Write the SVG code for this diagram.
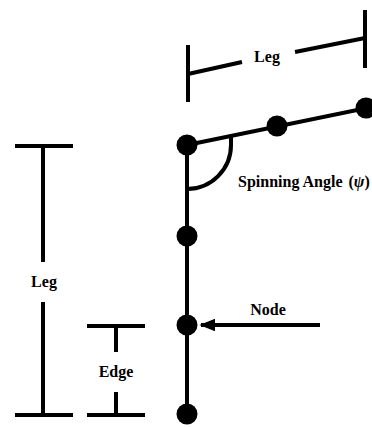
<svg xmlns="http://www.w3.org/2000/svg" width="372" height="427" viewBox="0 0 372 427">
  <defs>
    <style>
      .ln { stroke: #000; stroke-width: 4; fill: none; stroke-linecap: butt; }
      .nd { fill: #000; }
      .lbl { font-family: "Liberation Serif", "Times New Roman", serif; font-weight: bold; font-size: 16px; fill: #000; }
    </style>
    <marker id="head" viewBox="0 0 10 10" refX="9" refY="5" markerWidth="4" markerHeight="3.2" orient="auto" preserveAspectRatio="none">
      <path d="M0,0 L10,5 L0,10 z" fill="#000"/>
    </marker>
  </defs>
  <rect width="372" height="427" fill="#fff"/>

  <g id="connectors">
    <!-- chain: vertical leg and tilted leg -->
    <line class="ln" x1="187" y1="145" x2="187" y2="414"/>
    <line class="ln" x1="187" y1="145" x2="372" y2="107"/>
    <!-- spinning angle arc -->
    <path class="ln" d="M231,136 V145 A44,44 0 0 1 187,189"/>
    <!-- pointer to node -->
    <line class="ln" x1="320" y1="325" x2="201" y2="325" marker-end="url(#head)"/>
  </g>

  <g id="node-1"><circle class="nd" cx="187" cy="145" r="10.5"/></g>
  <g id="node-2"><circle class="nd" cx="277" cy="126" r="10.5"/></g>
  <g id="node-3"><circle class="nd" cx="366" cy="108" r="10.5"/></g>
  <g id="node-4"><circle class="nd" cx="187" cy="236" r="10.5"/></g>
  <g id="node-5"><circle class="nd" cx="187" cy="325" r="10.5"/></g>
  <g id="node-6"><circle class="nd" cx="187" cy="414" r="10.5"/></g>

  <!-- top leg dimension -->
  <g id="dim-leg-top">
    <line class="ln" x1="188" y1="45" x2="188" y2="102"/>
    <line class="ln" x1="365" y1="10" x2="365" y2="68"/>
    <line class="ln" x1="188" y1="74" x2="242" y2="62"/>
    <line class="ln" x1="295" y1="52" x2="365" y2="38"/>
    <text class="lbl" x="267" y="62" text-anchor="middle">Leg</text>
  </g>

  <!-- left leg dimension -->
  <g id="dim-leg-left">
    <line class="ln" x1="15" y1="146" x2="73" y2="146"/>
    <line class="ln" x1="43" y1="146" x2="43" y2="262"/>
    <line class="ln" x1="43" y1="302" x2="43" y2="415"/>
    <line class="ln" x1="15" y1="415" x2="73" y2="415"/>
    <text class="lbl" x="44" y="287" text-anchor="middle">Leg</text>
  </g>

  <!-- edge dimension -->
  <g id="dim-edge">
    <line class="ln" x1="87" y1="326" x2="145" y2="326"/>
    <line class="ln" x1="116" y1="326" x2="116" y2="352"/>
    <line class="ln" x1="116" y1="392" x2="116" y2="415"/>
    <line class="ln" x1="87" y1="415" x2="145" y2="415"/>
    <text class="lbl" x="116" y="377" text-anchor="middle">Edge</text>
  </g>

  <g id="label-angle">
    <text class="lbl" x="238" y="187">Spinning Angle<tspan dx="6">(</tspan><tspan font-style="italic">ψ</tspan>)</text>
  </g>
  <g id="label-node">
    <text class="lbl" x="268" y="315" text-anchor="middle">Node</text>
  </g>
</svg>
